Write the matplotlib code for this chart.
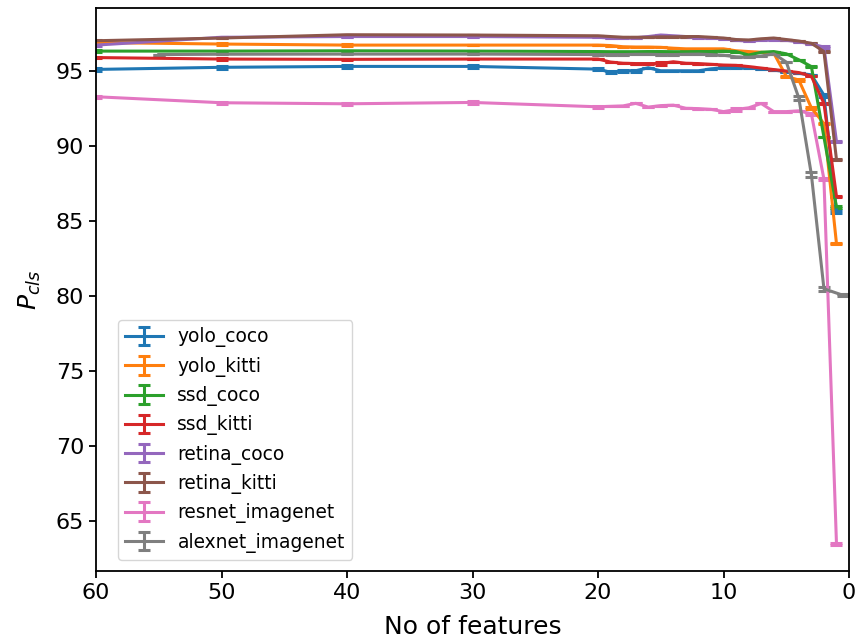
import matplotlib
matplotlib.use("Agg")
import matplotlib.pyplot as plt

# Number of retained features (x) for the detection / classification models
features = [60, 50, 40, 30, 20, 19, 18, 17, 16, 15, 14, 13, 12, 11, 10,
            9, 8, 7, 6, 5, 4, 3, 2, 1]
features_alexnet = [55, 50, 40, 30, 20, 19, 18, 17, 16, 15, 14, 13, 12, 11, 10,
                    9, 8, 7, 6, 5, 4, 3, 2, 0.5]

yolo_coco = [95.11, 95.25, 95.31, 95.31, 95.13, 94.92, 95.02, 95.02, 95.22, 95.02,
             95.02, 95.02, 95.02, 95.15, 95.22, 95.22, 95.20, 95.15, 95.07, 94.95,
             94.85, 94.75, 93.40, 85.62]
yolo_kitti = [96.90, 96.80, 96.73, 96.73, 96.73, 96.70, 96.62, 96.60, 96.60, 96.58,
              96.52, 96.48, 96.48, 96.48, 96.48, 96.35, 96.30, 96.25, 96.20, 94.65,
              94.40, 92.55, 91.50, 83.50]
ssd_coco = [96.33, 96.33, 96.35, 96.33, 96.30, 96.29, 96.29, 96.29, 96.30, 96.30,
            96.29, 96.29, 96.30, 96.30, 96.33, 96.30, 96.07, 96.25, 96.30, 96.15,
            95.75, 95.30, 90.60, 85.95]
ssd_kitti = [95.90, 95.80, 95.78, 95.80, 95.80, 95.60, 95.52, 95.50, 95.50, 95.50,
             95.62, 95.52, 95.50, 95.45, 95.40, 95.38, 95.30, 95.20, 95.10, 95.00,
             94.90, 94.65, 92.85, 86.65]
retina_coco = [96.73, 97.25, 97.30, 97.30, 97.25, 97.20, 97.20, 97.22, 97.30, 97.40,
               97.35, 97.30, 97.20, 97.20, 97.15, 97.05, 97.00, 97.05, 97.10, 97.05,
               96.95, 96.80, 96.60, 90.30]
retina_kitti = [97.02, 97.20, 97.42, 97.40, 97.35, 97.30, 97.25, 97.25, 97.25, 97.28,
                97.28, 97.30, 97.30, 97.25, 97.20, 97.10, 97.07, 97.15, 97.20, 97.10,
                97.00, 96.85, 96.30, 89.10]
resnet_imagenet = [93.29, 92.89, 92.82, 92.91, 92.62, 92.65, 92.68, 92.85, 92.60, 92.70,
                   92.73, 92.52, 92.50, 92.45, 92.30, 92.44, 92.55, 92.84, 92.30, 92.30,
                   92.35, 92.15, 87.80, 63.50]
alexnet_imagenet = [96.10, 96.12, 96.13, 96.13, 96.10, 96.10, 96.10, 96.12, 96.12, 96.10,
                    96.10, 96.12, 96.13, 96.10, 96.05, 95.95, 95.92, 96.00, 96.15, 95.60,
                    93.20, 88.10, 80.50, 80.07]

# Standard deviation over repeated runs
yolo_coco_err = [0.08, 0.08, 0.08, 0.08, 0.08, 0.08, 0.08, 0.08, 0, 0,
                 0, 0, 0, 0, 0, 0, 0, 0, 0, 0, 0, 0, 0.1, 0.1]
yolo_kitti_err = [0.05, 0.08, 0.08, 0, 0, 0, 0, 0, 0, 0,
                  0, 0, 0, 0, 0, 0, 0, 0, 0.05, 0.05, 0.05, 0.05, 0.05, 0.05]
ssd_coco_err = [0.05, 0, 0, 0, 0, 0, 0, 0, 0, 0,
                0, 0, 0, 0, 0, 0, 0, 0, 0, 0, 0, 0.05, 0, 0.05]
ssd_kitti_err = [0.05, 0.08, 0.05, 0, 0, 0, 0, 0, 0, 0.08,
                 0, 0, 0, 0, 0, 0, 0, 0, 0, 0, 0, 0, 0.05, 0.05]
retina_coco_err = [0.05, 0, 0, 0, 0, 0, 0, 0, 0, 0,
                   0, 0, 0, 0, 0, 0, 0, 0, 0, 0, 0, 0, 0.05, 0.05]
retina_kitti_err = [0.05, 0, 0, 0, 0, 0, 0, 0, 0, 0,
                    0, 0, 0, 0, 0, 0, 0, 0, 0, 0, 0, 0, 0.05, 0.05]
resnet_imagenet_err = [0.08, 0.08, 0.08, 0.08, 0.08, 0, 0, 0, 0, 0,
                       0, 0, 0, 0, 0, 0.08, 0, 0, 0, 0, 0, 0.05, 0.05, 0.05]
alexnet_imagenet_err = [0, 0, 0, 0, 0, 0, 0, 0, 0, 0,
                        0, 0, 0, 0, 0, 0, 0, 0, 0, 0, 0.15, 0.15, 0.12, 0.05]

series = [
    ("yolo_coco", features, yolo_coco, yolo_coco_err),
    ("yolo_kitti", features, yolo_kitti, yolo_kitti_err),
    ("ssd_coco", features, ssd_coco, ssd_coco_err),
    ("ssd_kitti", features, ssd_kitti, ssd_kitti_err),
    ("retina_coco", features, retina_coco, retina_coco_err),
    ("retina_kitti", features, retina_kitti, retina_kitti_err),
    ("resnet_imagenet", features, resnet_imagenet, resnet_imagenet_err),
    ("alexnet_imagenet", features_alexnet, alexnet_imagenet, alexnet_imagenet_err),
]

fig = plt.figure(figsize=(8.59, 6.41), dpi=100)
ax = fig.add_axes([0.1118, 0.1092, 0.8766, 0.8783])

for name, xs, ys, errs in series:
    ax.errorbar(xs, ys, yerr=errs, label=name, lw=2.2, elinewidth=2.2,
                capsize=4, capthick=2.2)

ax.set_xlim(60, 0)
ax.set_ylim(61.7, 99.2)
ax.set_xticks([60, 50, 40, 30, 20, 10, 0])
ax.set_yticks([65, 70, 75, 80, 85, 90, 95])
ax.tick_params(labelsize=16, width=1.3, length=5)
for s in ax.spines.values():
    s.set_linewidth(1.3)

ax.set_xlabel("No of features", fontsize=18, labelpad=9)
ax.set_ylabel(r"$P_{cls}$", fontsize=18, labelpad=9)

ax.legend(loc="lower left", bbox_to_anchor=(0.029, 0.0195), borderaxespad=0,
          fontsize=13.4)

fig.savefig("out.png", dpi=100)
